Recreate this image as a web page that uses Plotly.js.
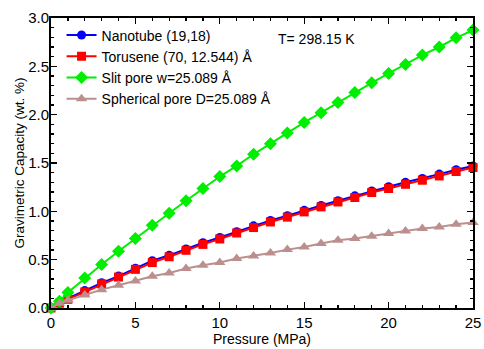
<!DOCTYPE html>
<html>
<head>
<meta charset="utf-8">
<script src="https://cdn.plot.ly/plotly-3.0.1.min.js"></script>
<style>
  html, body { margin: 0; padding: 0; background: #fff; }
  #chart { width: 484px; height: 349px; }
</style>
</head>
<body>
<div id="chart"></div>
<script>
// Pressure points (MPa)
const pressure = [0, 0.5, 1, 2, 3, 4, 5, 6, 7, 8, 9, 10, 11, 12, 13, 14, 15, 16, 17, 18, 19, 20, 21, 22, 23, 24, 25];

// Gravimetric capacity (wt. %) for each structure
const nanotube = [0, 0.05, 0.10, 0.18, 0.26, 0.33, 0.41, 0.49, 0.545, 0.61, 0.675, 0.73, 0.79, 0.85, 0.905, 0.955, 1.01, 1.06, 1.11, 1.16, 1.21, 1.255, 1.30, 1.34, 1.385, 1.43, 1.47];
const torusene = [0, 0.05, 0.09, 0.166, 0.25, 0.32, 0.40, 0.47, 0.53, 0.597, 0.658, 0.714, 0.776, 0.832, 0.89, 0.94, 0.994, 1.046, 1.097, 1.143, 1.195, 1.236, 1.28, 1.322, 1.366, 1.412, 1.453];
const slitPore = [0, 0.07, 0.16, 0.31, 0.45, 0.587, 0.72, 0.856, 0.98, 1.11, 1.236, 1.36, 1.47, 1.59, 1.70, 1.81, 1.92, 2.02, 2.126, 2.23, 2.33, 2.426, 2.52, 2.616, 2.70, 2.795, 2.875];
const sphericalPore = [0, 0.05, 0.08, 0.135, 0.19, 0.235, 0.28, 0.328, 0.362, 0.408, 0.442, 0.47, 0.511, 0.538, 0.569, 0.604, 0.631, 0.667, 0.70, 0.718, 0.742, 0.77, 0.797, 0.822, 0.839, 0.866, 0.884];

const seriesNames = [
  'Nanotube (19,18)',
  'Torusene (70, 12.544) Å',
  'Slit pore w=25.089 Å',
  'Spherical pore D=25.089 Å'
];

const font = 'Liberation Sans, Arial, Helvetica, sans-serif';

function trace(y, name, color, symbol, size) {
  return {
    x: pressure, y: y, name: name, type: 'scatter', mode: 'lines+markers',
    line: { color: color, width: 2 },
    marker: { color: color, symbol: symbol, size: size },
    cliponaxis: false
  };
}

const data = [
  trace(nanotube, seriesNames[0], '#0000ff', 'circle', 9),
  trace(torusene, seriesNames[1], '#ff0000', 'square', 9),
  trace(slitPore, seriesNames[2], '#00ee00', 'diamond', 10),
  trace(sphericalPore, seriesNames[3], '#bc8f8f', 'triangle-up', 10)
];

const axisCommon = {
  showline: true, linecolor: '#000', linewidth: 2, mirror: 'ticks',
  ticks: 'inside', ticklen: 6, tickwidth: 1.3, tickcolor: '#000',
  showgrid: false, zeroline: false,
  tickfont: { family: font, size: 15, color: '#000' }
};

const layout = {
  width: 484, height: 349,
  margin: { l: 51, r: 11, t: 18, b: 41 },
  paper_bgcolor: '#fff', plot_bgcolor: '#fff',
  showlegend: true,
  legend: {
    x: 0.025, y: 0.995, xanchor: 'left', yanchor: 'top',
    bgcolor: 'rgba(0,0,0,0)', borderwidth: 0,
    font: { family: font, size: 14, color: '#000' },
    itemwidth: 30, tracegroupgap: 0
  },
  xaxis: Object.assign({}, axisCommon, {
    range: [0, 25], dtick: 5,
    minor: { dtick: 1, ticks: 'inside', ticklen: 3, tickcolor: '#000' },
    title: { text: 'Pressure (MPa)', font: { family: font, size: 14, color: '#000' }, standoff: 2 }
  }),
  yaxis: Object.assign({}, axisCommon, {
    range: [0, 3], dtick: 0.5, tickformat: '.1f', ticklabelstandoff: -3,
    minor: { dtick: 0.1, ticks: 'inside', ticklen: 3, tickcolor: '#000' },
    title: { text: 'Gravimetric Capacity (wt. %)', font: { family: font, size: 13.5, color: '#000' }, standoff: 0 }
  }),
  annotations: [{
    text: 'T= 298.15 K', xref: 'x', yref: 'y', x: 15.7, y: 2.78,
    showarrow: false, xanchor: 'center', yanchor: 'middle',
    font: { family: font, size: 14, color: '#000' }
  }]
};

Plotly.newPlot('chart', data, layout, { displayModeBar: false, staticPlot: true });
</script>
</body>
</html>
